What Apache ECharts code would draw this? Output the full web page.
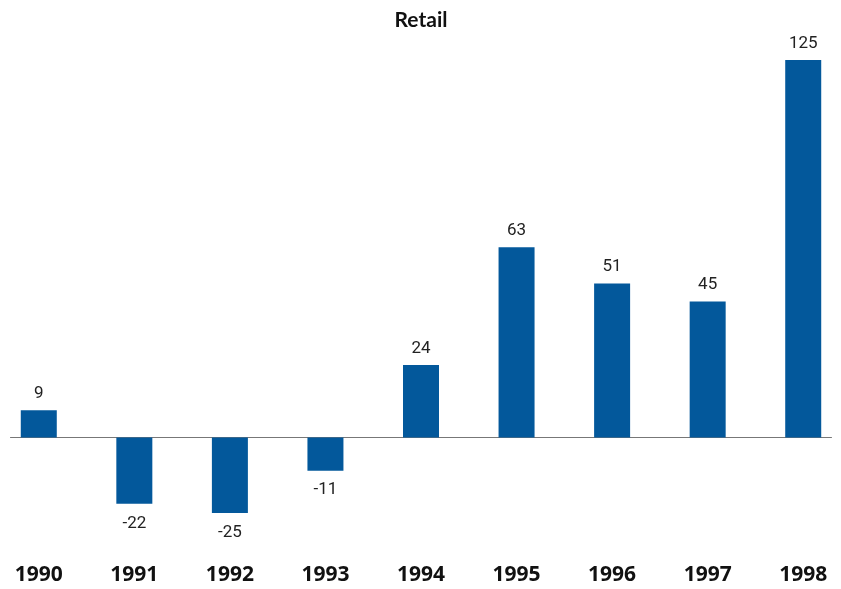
<!DOCTYPE html>
<html>
<head>
<meta charset="utf-8">
<script src="https://cdn.jsdelivr.net/npm/echarts@6/dist/echarts.min.js"></script>
<style>
  html, body { margin: 0; padding: 0; background: #fff; overflow: hidden; }
  #chart { width: 860px; height: 589px; margin-left: -9.5px; }
</style>
</head>
<body>
<div id="chart"></div>
<script>
// 数据
var years = ['1990', '1991', '1992', '1993', '1994', '1995', '1996', '1997', '1998']
var values = [9, -22, -25, -11, 24, 63, 51, 45, 125]

var myChart = echarts.init(document.getElementById('chart'))

// 正值标签在上，负值标签在下
var barData = values.map(function (v) {
  return {
    value: v,
    label: { position: v < 0 ? 'bottom' : 'top', distance: v < 0 ? 11 : 8 }
  }
})

myChart.setOption({
  animation: false,
  title: {
    text: 'Retail',
    left: 'center',
    top: 5,
    textStyle: { fontFamily: 'Lato', fontWeight: 'bold', fontSize: 21, color: '#111' }
  },
  grid: [
    { left: 0, right: 0, top: 45, bottom: 61 },
    { left: 19.5, right: 19.5, top: 45, bottom: 61 }
  ],
  xAxis: [
    {
      type: 'category',
      gridIndex: 0,
      data: years,
      axisLine: { show: false, onZero: false },
      axisTick: { show: false },
      axisLabel: {
        margin: 37,
        fontFamily: 'Open Sans',
        fontWeight: 'bold',
        fontSize: 21,
        color: '#111'
      }
    },
    {
      // 零线
      type: 'value',
      gridIndex: 1,
      min: 0,
      max: 1,
      axisLine: { show: true, onZero: true, lineStyle: { color: '#777', width: 1 } },
      axisTick: { show: false },
      axisLabel: { show: false },
      splitLine: { show: false }
    }
  ],
  yAxis: [
    { type: 'value', gridIndex: 0, min: -30, max: 130, show: false, splitLine: { show: false } },
    { type: 'value', gridIndex: 1, min: -30, max: 130, show: false, splitLine: { show: false } }
  ],
  series: [
    {
      type: 'bar',
      xAxisIndex: 0,
      yAxisIndex: 0,
      barWidth: 36,
      data: barData,
      itemStyle: { color: '#03589B' },
      label: {
        show: true,
        fontFamily: 'Roboto',
        fontSize: 17,
        color: '#222'
      }
    }
  ]
})
</script>
</body>
</html>
